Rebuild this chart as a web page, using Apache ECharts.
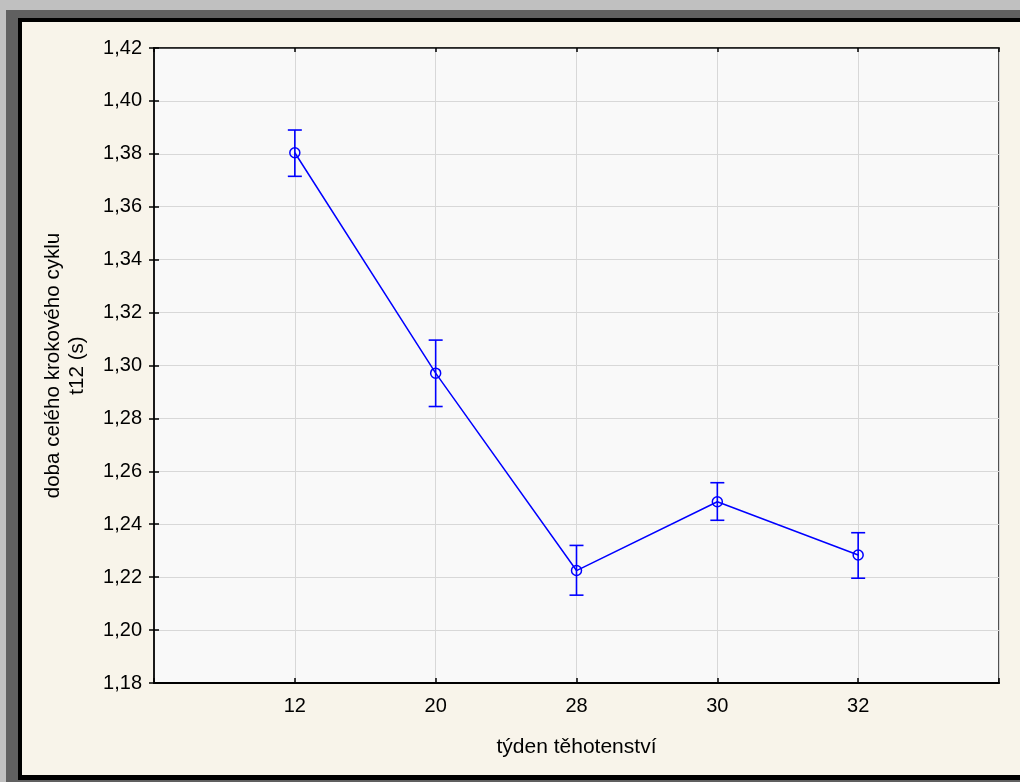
<!DOCTYPE html>
<html>
<head>
<meta charset="utf-8">
<script src="https://cdn.jsdelivr.net/npm/echarts@6/dist/echarts.min.js"></script>
<style>
  html, body { margin: 0; padding: 0; width: 1020px; height: 782px; overflow: hidden; background: #c0c0c0; }
  .layer { position: absolute; }
  #chart { position: absolute; left: 0; top: 0; width: 1020px; height: 782px; }
</style>
</head>
<body>
<div class="layer" style="left:6px;top:10px;width:1014px;height:772px;background:#606060"></div>
<div class="layer" style="left:18px;top:18px;width:1002px;height:762px;background:#000"></div>
<div class="layer" style="left:22px;top:22px;width:998px;height:753px;background:#f8f4ea"></div>
<div id="chart"></div>
<script>
// Data
const weeks = ['12', '20', '28', '30', '32'];
const means = [1.3804, 1.2971, 1.2225, 1.2485, 1.2284];
const lower = [1.3715, 1.2845, 1.2132, 1.2415, 1.2196];
const upper = [1.3890, 1.3096, 1.2320, 1.2557, 1.2368];

const FONT = '"Liberation Sans", Arial, sans-serif';
const BLUE = '#0000ff';

const positions = weeks.map((w, i) => i + 1);
const lineData = positions.map((x, i) => [x, means[i]]);
const errData = positions.map((x, i) => [x, lower[i], upper[i]]);

const chart = echarts.init(document.getElementById('chart'), null, { renderer: 'canvas' });

const yFmt = v => v.toFixed(2).replace('.', ',');
const xFmt = v => (v >= 1 && v <= weeks.length && Number.isInteger(v)) ? weeks[v - 1] : '';

chart.setOption({
  backgroundColor: 'transparent',
  animation: false,
  textStyle: { fontFamily: FONT },
  grid: {
    left: 154, top: 48, right: 21, bottom: 99,
    show: true, backgroundColor: '#f9f9f9', borderColor: '#1a1a1a', borderWidth: 1.5
  },
  xAxis: [{
    type: 'value', min: 0, max: 6, interval: 1,
    position: 'bottom',
    name: 'týden těhotenství', nameLocation: 'middle', nameGap: 54,
    nameTextStyle: { fontSize: 21, color: '#000', fontFamily: FONT },
    axisLine: { show: true, lineStyle: { color: '#000', width: 2 } },
    axisTick: { show: true, inside: true, length: 5, lineStyle: { color: '#000', width: 1.5 } },
    axisLabel: { formatter: xFmt, fontSize: 20, color: '#000', margin: 13, fontFamily: FONT },
    splitLine: { show: true, lineStyle: { color: '#d8d8d8', width: 1 } }
  }, {
    type: 'value', min: 0, max: 6, interval: 1,
    position: 'top',
    axisLine: { show: true, lineStyle: { color: '#1a1a1a', width: 1.5 } },
    axisTick: { show: true, inside: true, length: 4, lineStyle: { color: '#000', width: 1.5 } },
    axisLabel: { show: false },
    splitLine: { show: false }
  }],
  yAxis: [{
    type: 'value', min: 1.18, max: 1.42, interval: 0.02,
    position: 'left',
    name: 'doba celého krokového cyklu\nt12 (s)', nameLocation: 'middle', nameGap: 65, nameRotate: 90,
    nameTextStyle: { fontSize: 20.6, color: '#000', lineHeight: 24, align: 'center', fontFamily: FONT },
    axisLine: { show: true, lineStyle: { color: '#000', width: 2 } },
    axisTick: { show: true, inside: true, length: 5, lineStyle: { color: '#000', width: 1.5 } },
    axisLabel: { formatter: yFmt, fontSize: 20, color: '#000', margin: 12, fontFamily: FONT },
    splitLine: { show: true, lineStyle: { color: '#d8d8d8', width: 1 } }
  }, {
    type: 'value', min: 1.18, max: 1.42, interval: 0.02,
    position: 'right',
    axisLine: { show: true, lineStyle: { color: '#1a1a1a', width: 2 } },
    axisTick: { show: true, inside: true, length: 5, lineStyle: { color: '#000', width: 1.5 } },
    axisLabel: { show: false },
    splitLine: { show: false }
  }],
  series: [{
    type: 'line',
    xAxisIndex: 0, yAxisIndex: 0,
    data: lineData,
    symbol: 'circle', symbolSize: 10,
    showSymbol: true,
    lineStyle: { color: BLUE, width: 1.5 },
    itemStyle: { color: 'transparent', borderColor: BLUE, borderWidth: 1.5 },
    z: 3
  }, {
    type: 'custom',
    xAxisIndex: 0, yAxisIndex: 0,
    data: errData,
    encode: { x: 0, y: [1, 2] },
    clip: false,
    z: 4,
    renderItem: function (params, api) {
      const x = api.value(0);
      const lo = api.coord([x, api.value(1)]);
      const hi = api.coord([x, api.value(2)]);
      const hw = 7;
      const style = { stroke: BLUE, lineWidth: 1.6, fill: null };
      return {
        type: 'group',
        children: [
          { type: 'line', shape: { x1: hi[0], y1: hi[1], x2: lo[0], y2: lo[1] }, style: style },
          { type: 'line', shape: { x1: hi[0] - hw, y1: hi[1], x2: hi[0] + hw, y2: hi[1] }, style: style },
          { type: 'line', shape: { x1: lo[0] - hw, y1: lo[1], x2: lo[0] + hw, y2: lo[1] }, style: style }
        ]
      };
    }
  }]
});
</script>
</body>
</html>
